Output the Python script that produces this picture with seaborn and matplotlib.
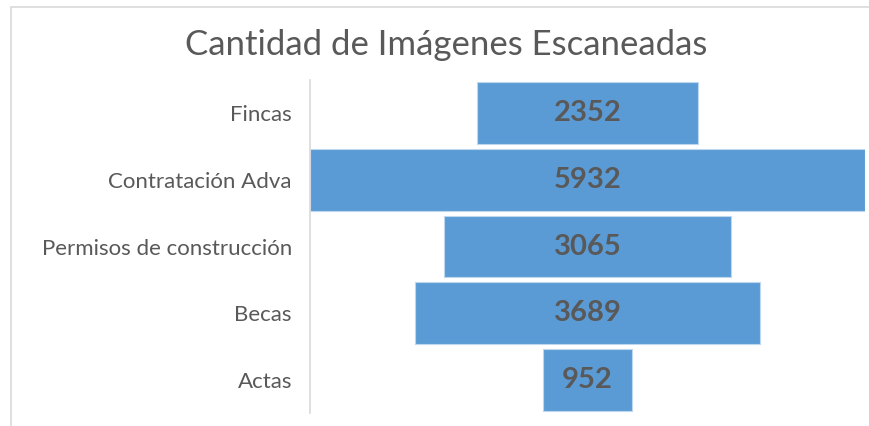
import pandas as pd
import seaborn as sns
import matplotlib.pyplot as plt
from matplotlib.patches import Rectangle

categories = ["Fincas", "Contratación Adva", "Permisos de construcción", "Becas", "Actas"]
values = [2352, 5932, 3065, 3689, 952]

df = pd.DataFrame({"categoria": categories, "cantidad": values})

sns.set_style("white")
plt.rcParams["font.family"] = ["Lato", "DejaVu Sans"]

fig = plt.figure(figsize=(8.7, 4.26), dpi=100)
ax = fig.add_axes([310 / 870, 1 - 413 / 426, 555 / 870, 333 / 426])

# chart border like the spreadsheet frame
fig.patches.append(Rectangle((11 / 870, -0.1), 1.0, 1 - 7 / 426 + 0.1, transform=fig.transFigure,
                             fill=False, edgecolor="#D9D9D9", linewidth=1.2))

sns.barplot(data=df, x="cantidad", y="categoria", color="#5B9BD5", saturation=1,
            width=0.93, edgecolor="#BDD7EE", linewidth=0.8, ax=ax)

# center the bars to make a funnel
vmax = max(values)
for patch, v in zip(ax.patches, values):
    patch.set_x((vmax - v) / 2)
    ax.text(vmax / 2, patch.get_y() + patch.get_height() / 2, str(v), ha="center", va="center",
            fontsize=21, fontweight="bold", color="#595959")

ax.set_xlim(0, vmax)
ax.set_ylim(4.5, -0.5)
ax.set_xticks([])
ax.set_xlabel("")
ax.set_ylabel("")
ax.tick_params(axis="y", length=0, pad=13, labelsize=16, labelcolor="#595959")
for s in ["top", "right", "bottom"]:
    ax.spines[s].set_visible(False)
ax.spines["left"].set_color("#D9D9D9")
ax.spines["left"].set_linewidth(1.2)

fig.text(446 / 870, 1 - 45 / 426, "Cantidad de Imágenes Escaneadas", ha="center", va="center",
         fontsize=25, color="#595959")

fig.savefig("out.png", dpi=100)
